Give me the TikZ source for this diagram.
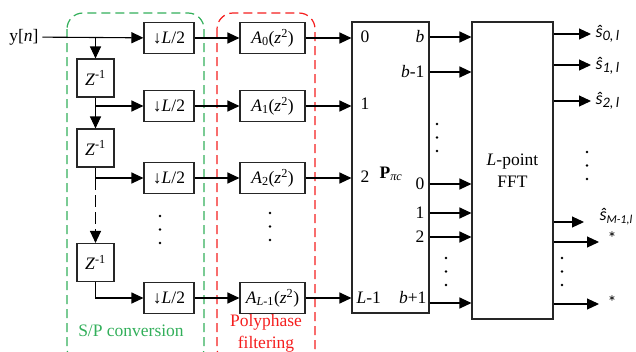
\documentclass[tikz,border=0pt]{standalone}
\usepackage{fontspec}
\setmainfont{Liberation Serif}
\newfontfamily\calibri{Carlito}
\usetikzlibrary{arrows.meta}

\definecolor{spgreen}{RGB}{50,175,90}
\definecolor{ppred}{RGB}{245,30,30}

\newcommand{\shat}[2][14.5]{{\calibri\itshape ŝ\raisebox{-0.35ex}{\fontsize{#1}{16}\selectfont #2}}}

\begin{document}
\begin{tikzpicture}[
    x=1pt, y=-1pt,
    font=\fontsize{17.5}{22}\selectfont,
    >={Triangle[length=12pt,width=11pt]},
    line width=1.1pt,
    blk/.style={
        draw=black!85,
        rectangle,
        inner sep=0pt
    },
    dbox/.style={blk, minimum width=50pt, minimum height=31pt},
    abox/.style={blk, minimum width=65pt, minimum height=31pt},
    zbox/.style={blk, minimum width=37pt, minimum height=38pt},
    frame/.style={dash pattern=on 9pt off 5pt, rounded corners=16pt, line width=1.2pt},
    outlbl/.style={anchor=east, inner sep=1pt},
    inlbl/.style={anchor=west, inner sep=1pt},
    est/.style={anchor=west, inner sep=1pt, font=\calibri\fontsize{18}{20}\selectfont}
]
\useasboundingbox (0,0) rectangle (636,351);

% containers
\draw[spgreen, frame] (67,13) rectangle (204,364);
\draw[ppred, frame] (217,13) rectangle (315,364);
\node[text=spgreen] (sptext) at (131,331) {S/P conversion};
\node[text=ppred, align=center] (pptext) at (266,333) {Polyphase\\filtering};

% input and delay line
\node (yn) at (24,37) {y[\textit{n}]};
\node[dbox] (d0) at (169,38) {↓\textit{L}/2};
\node[dbox] (d1) at (169,106) {↓\textit{L}/2};
\node[dbox] (d2) at (169,178) {↓\textit{L}/2};
\node[dbox] (d3) at (169,298) {↓\textit{L}/2};
\node[zbox] (z1) at (95.5,78) {\textit{Z}\textsuperscript{-1}};
\node[zbox] (z2) at (95.5,148) {\textit{Z}\textsuperscript{-1}};
\node[zbox] (z3) at (95.5,262.5) {\textit{Z}\textsuperscript{-1}};

\draw[->] (yn) -- (d0);
\draw[->] (z1.north |- d0) -- (z1);
\draw[->] (z1.south) |- (d1);
\draw[->] (z1.south |- d1) -- (z2);
\draw[->] (z2.south) |- (d2);
\draw[->, dash pattern=on 12pt off 5pt] (z2.south |- d2) -- (z3);
\draw[->] (z3.south) |- (d3);

% polyphase filters
\node[abox] (a0) at (272.5,38) {\textit{A}\textsubscript{0}(\textit{z}\textsuperscript{2})};
\node[abox] (a1) at (272.5,106) {\textit{A}\textsubscript{1}(\textit{z}\textsuperscript{2})};
\node[abox] (a2) at (272.5,178) {\textit{A}\textsubscript{2}(\textit{z}\textsuperscript{2})};
\node[abox] (a3) at (272.5,298) {\textit{A}\textsubscript{\textit{L}-1}(\textit{z}\textsuperscript{2})};
\draw[->] (d0) -- (a0);
\draw[->] (d1) -- (a1);
\draw[->] (d2) -- (a2);
\draw[->] (d3) -- (a3);

% permutation and FFT
\node[blk, minimum width=77pt, minimum height=291pt] (P) at (390.5,167.5) {};
\node[blk, minimum width=81pt, minimum height=297pt] (FFT) at (512.5,170.5) {};
\node (plbl) at (391,174) {\textbf{P}\textsubscript{\textit{πc}}};
\node[align=center] (fftlbl) at (512.5,171) {\textit{L}-point\\FFT};

\draw[->] (a0) -- (a0 -| P.west);
\draw[->] (a1) -- (a1 -| P.west);
\draw[->] (a2) -- (a2 -| P.west);
\draw[->] (a3) -- (a3 -| P.west);
\node[inlbl] (i0) at (359,37) {0};
\node[inlbl] (i1) at (359,104) {1};
\node[inlbl] (i2) at (359,177) {2};
\node[inlbl] (i3) at (355,298) {\textit{L}-1};

\node[outlbl] (o0) at (426,37) {\textit{b}};
\node[outlbl] (o1) at (426,72) {\textit{b}-1};
\node[outlbl] (o2) at (426,184) {0};
\node[outlbl] (o3) at (426,213) {1};
\node[outlbl] (o4) at (426,237) {2};
\node[outlbl] (o5) at (428,298) {\textit{b}+1};
\foreach \yy in {37,72,184,213,237,303}
    \draw[->] (P.east |- 0,\yy) -- (FFT.west |- 0,\yy);

% FFT outputs
\node[est] (s0) at (594,34) {\shat{0,\,l}};
\node[est] (s1) at (594,66) {\shat{1,\,l}};
\node[est] (s2) at (594,101) {\shat{2,\,l}};
\node[est] (s3) at (598,217) {\shat[12]{M-1,l}};
\node[est] (st1) at (606,238) {*};
\node[est] (st2) at (606,302) {*};
\coordinate (e0) at (591,34);
\coordinate (e1) at (591,65);
\coordinate (e2) at (591,101);
\coordinate (e3) at (584,222);
\coordinate (e4) at (599,242);
\coordinate (e5) at (599,304);
\draw[->] (FFT.east |- e0) -- (e0);
\draw[->] (FFT.east |- e1) -- (e1);
\draw[->] (FFT.east |- e2) -- (e2);
\draw[->] (FFT.east |- e3) -- (e3);
\draw[->] (FFT.east |- e4) -- (e4);
\draw[->] (FFT.east |- e5) -- (e5);

% vertical dots
\foreach \xx/\ya in {160/216, 270/213, 437/124, 446/258, 587/152, 562/258}
    \foreach \k in {0,1,2}
        \fill (\xx,\ya+13.5*\k) circle (1.4pt);
\end{tikzpicture}
\end{document}
